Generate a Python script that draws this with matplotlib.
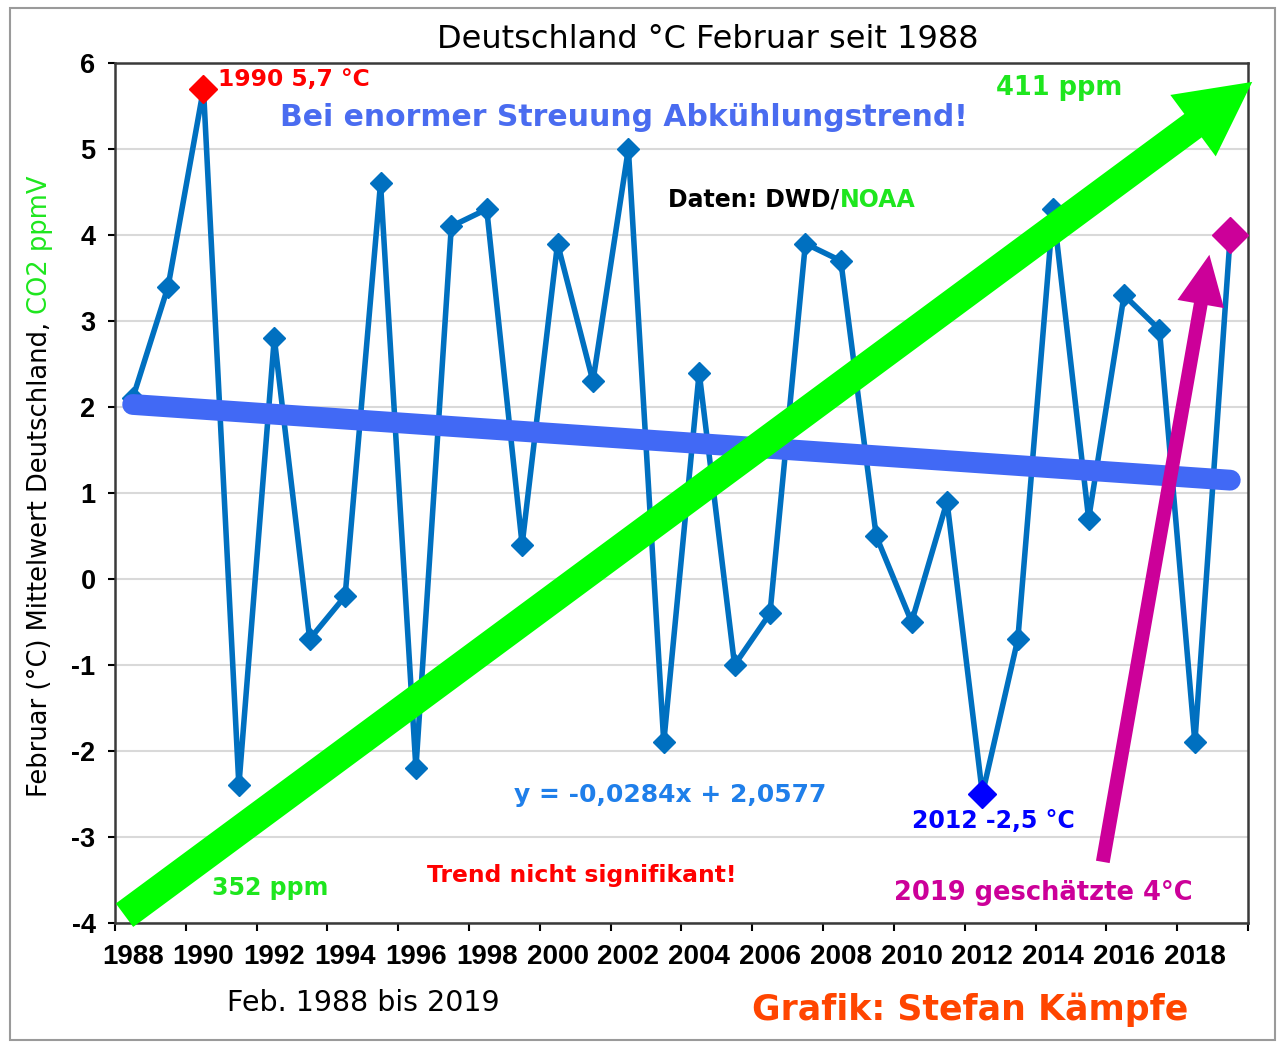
import matplotlib.pyplot as plt
from matplotlib.patches import Rectangle


# Data (Februar-Mittel Deutschland):

years = list(range(1988, 2020))
temps = [2.1, 3.4, 5.7, -2.4, 2.8, -0.7, -0.2, 4.6, -2.2, 4.1,
         4.3, 0.4, 3.9, 2.3, 5.0, -1.9, 2.4, -1.0, -0.4, 3.9,
         3.7, 0.5, -0.5, 0.9, -2.5, -0.7, 4.3, 0.7, 3.3, 2.9,
         -1.9, 4.0]

trend_slope = -0.0284
trend_intercept = 2.0577

max_point = (1990, 5.7)
min_point = (2012, -2.5)
est_point = (2019, 4.0)

co2_arrow = ((1987.77, -3.91), (2019.62, 5.78))
est_arrow = ((2015.4, -3.29), (2018.41, 3.77))

label_years = list(range(1988, 2019, 2))
boundary_ticks = [y - 0.5 for y in range(1988, 2021, 2)]
y_ticks = list(range(-4, 7))

LINE_BLUE = "#0070C0"
TREND_BLUE = "#4169F5"
GREEN = "#00FF00"
GREEN_TEXT = "#1EE61E"
MAGENTA = "#CC0099"

plt.rcParams['font.family'] = ['DejaVu Sans']

# Figure setup:

fig = plt.figure(figsize=(12.83, 10.43), dpi=100)
ax = fig.add_axes([0.0896, 0.1151, 0.8831, 0.8245])

fig.patches.append(Rectangle((0.0078, 0.003), 0.986, 0.989,
                             transform=fig.transFigure, fill=False,
                             edgecolor="#9a9a9a", lw=1.5))

# Series, trend and highlighted points:

ax.plot(years, temps, color=LINE_BLUE, lw=4.0, marker="D", ms=11.5,
        zorder=3)

trend_x = [years[0], years[-1]]
trend_y = [trend_slope * (y - years[0] + 1) + trend_intercept for y in trend_x]
ax.plot(trend_x, trend_y, color=TREND_BLUE, lw=15, solid_capstyle="round",
        zorder=4)

ax.plot(*max_point, marker="D", ms=14, color="#FF0000", zorder=6)
ax.plot(*min_point, marker="D", ms=14, color="#0000FF", zorder=6)
ax.plot(*est_point, marker="D", ms=18, color=MAGENTA, zorder=6,
        clip_on=False)

# Arrows:

ax.annotate("", xy=co2_arrow[1], xytext=co2_arrow[0],
            arrowprops=dict(arrowstyle="simple,head_length=5.3,head_width=5.5,tail_width=2.1",
                            mutation_scale=10, color=GREEN, lw=0,
                            shrinkA=0, shrinkB=0),
            annotation_clip=False, zorder=5)
ax.annotate("", xy=est_arrow[1], xytext=est_arrow[0],
            arrowprops=dict(arrowstyle="simple,head_length=3.6,head_width=3.4,tail_width=1.0",
                            mutation_scale=10, color=MAGENTA, lw=0,
                            shrinkA=0, shrinkB=0),
            annotation_clip=False, zorder=5)

# Axes:

ax.set_xlim(1987.5, 2019.5)
ax.set_ylim(-4, 6)
ax.set_xticks(boundary_ticks)
ax.set_xticks(label_years, minor=True)
ax.set_xticklabels([str(y) for y in label_years], minor=True,
                   family="Liberation Sans", weight="bold")
ax.tick_params(axis="x", which="major", length=6, width=1.5,
               direction="out", labelbottom=False)
ax.tick_params(axis="x", which="minor", length=0, pad=15, labelsize=20)
ax.set_yticks(y_ticks)
ax.set_yticklabels([str(v) for v in y_ticks], family="Liberation Sans",
                   weight="bold")
ax.tick_params(axis="y", length=5, width=1.5, direction="out", pad=9,
               labelsize=19.5)
ax.yaxis.grid(True, color="#d9d9d9", lw=1.5)
ax.set_axisbelow(True)
for spine in ax.spines.values():
    spine.set_color("#3a3a3a")
    spine.set_linewidth(1.8)

# Texts:

fig.text(0.552, 0.962, "Deutschland °C Februar seit 1988", ha="center",
         va="center", fontsize=23)

ylab = fig.text(0.031, 0.236, "Februar (°C) Mittelwert Deutschland, ",
                rotation=90, rotation_mode="anchor", ha="left", va="center",
                fontsize=18.5)
ax.annotate("CO2 ppmV", xy=(0.5, 1.0), xycoords=ylab, rotation=90,
            rotation_mode="anchor", ha="left", va="center", fontsize=18.5,
            color=GREEN_TEXT, annotation_clip=False)

ax.text(1990.4, 5.81, "1990 5,7 °C", color="#FF0000", fontsize=16.8,
        weight="bold", ha="left", va="center")
ax.text(2001.87, 5.37, "Bei enormer Streuung Abkühlungstrend!",
        color="#4A6CF0", fontsize=21.5, weight="bold", ha="center",
        va="center")
ax.text(2014.18, 5.71, "411 ppm", color=GREEN_TEXT, fontsize=18.5,
        weight="bold", ha="center", va="center")
daten = ax.text(2003.13, 4.41, "Daten: DWD/", color="black", fontsize=17,
                weight="bold", ha="left", va="center")
ax.annotate("NOAA", xy=(1.0, 0.0), xycoords=daten, color=GREEN_TEXT,
            fontsize=17, weight="bold", ha="left", va="bottom")
ax.text(2003.19, -2.51, "y = -0,0284x + 2,0577", color="#1F7FEA",
        fontsize=18, weight="bold", ha="center", va="center")
ax.text(2012.3, -2.81, "2012 -2,5 °C", color="#0000FF", fontsize=17,
        weight="bold", ha="center", va="center")
ax.text(1991.89, -3.59, "352 ppm", color=GREEN_TEXT, fontsize=17,
        weight="bold", ha="center", va="center")
ax.text(2000.68, -3.45, "Trend nicht signifikant!", color="#FF0000",
        fontsize=16.9, weight="bold", ha="center", va="center")
ax.text(2013.73, -3.65, "2019 geschätzte 4°C", color=MAGENTA,
        fontsize=18.5, weight="bold", ha="center", va="center")

fig.text(0.283, 0.038, "Feb. 1988 bis 2019", ha="center", va="center",
         fontsize=20.5)
fig.text(0.756, 0.032, "Grafik: Stefan Kämpfe", color="#FF4500",
         ha="center", va="center", fontsize=25, weight="bold")

fig.savefig("out.png", dpi=100)
